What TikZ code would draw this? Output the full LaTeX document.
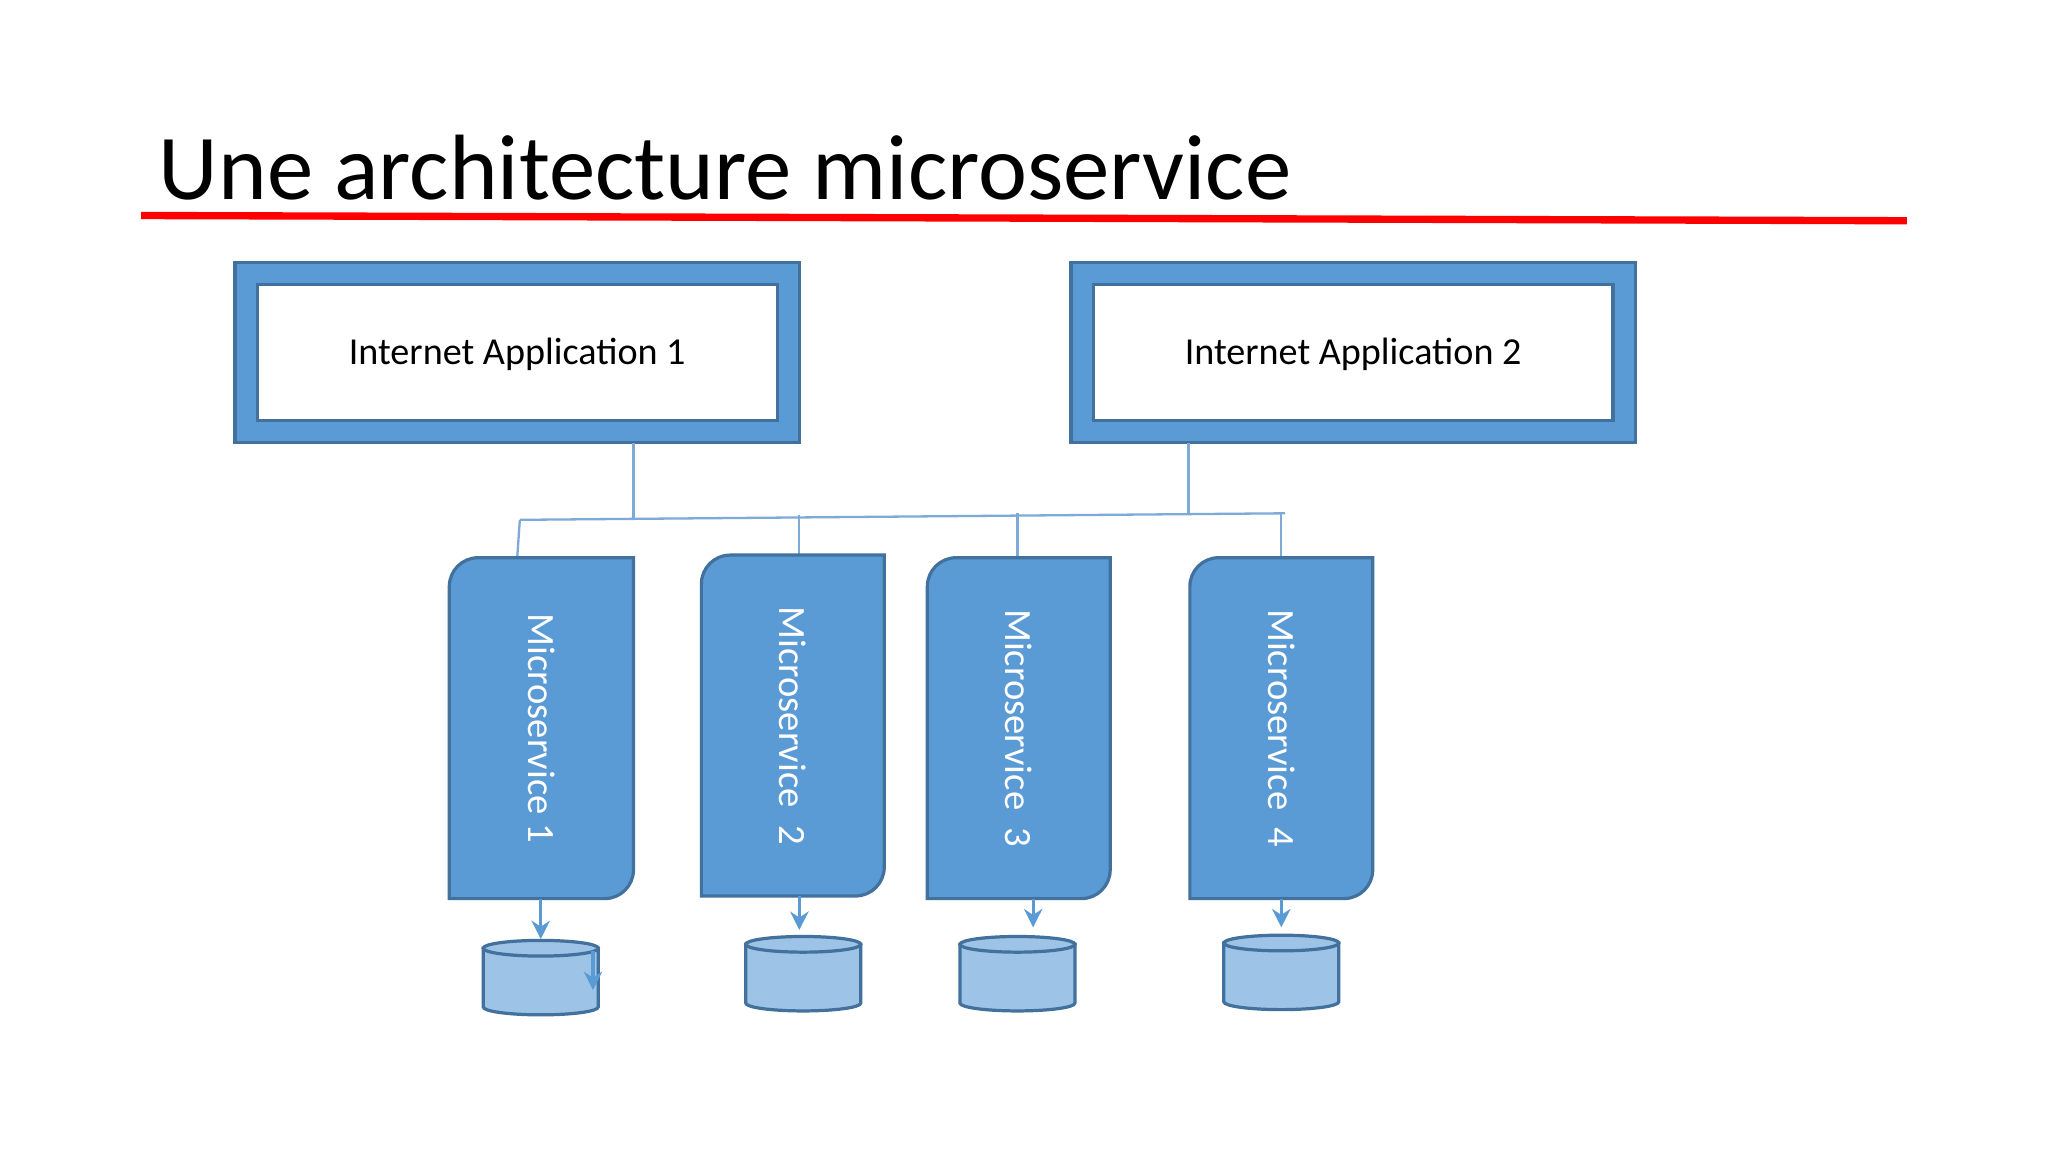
\documentclass[tikz,border=0pt]{standalone}
\usepackage{fontspec}
\setmainfont{Carlito}
\usetikzlibrary{arrows.meta}
\begin{document}
\begin{tikzpicture}[x=0.01cm,y=-0.01cm,
  outer/.style={fill=blue1,draw=blue2,line width=0.7pt},
  inner/.style={fill=white,draw=blue2,line width=0.7pt},
  ms/.style={fill=blue1,draw=blue2,line width=0.7pt},
  db/.style={fill=blue3,draw=blue2,line width=0.7pt},
  link/.style={draw=blue4,line width=0.5pt},
  arr/.style={draw=blue1,line width=0.7pt,-{Stealth[length=4pt,width=4pt]}},
  mstext/.style={rotate=-90,text=white,font=\fontsize{8.4pt}{10pt}\selectfont},
  apptext/.style={font=\fontsize{8.3pt}{10pt}\selectfont}]
\definecolor{blue1}{HTML}{5B9BD5}
\definecolor{blue2}{HTML}{41719C}
\definecolor{blue3}{HTML}{9DC3E6}
\definecolor{blue4}{HTML}{7EAAD8}
\useasboundingbox (0,0) rectangle (1568,882);
\fill[white] (0,0) rectangle (1568,882);
\node[anchor=base west,inner sep=0,font=\fontsize{20.2pt}{24pt}\selectfont] (title) at (121,153) {Une architecture microservice};
\draw[red,line width=1.6pt] (108,165) coordinate (r1) -- (1460,169) coordinate (r2);
% apps
\draw[outer] (180,201) rectangle (612,339);
\draw[inner] (197,218) rectangle (595,322);
\node[apptext] (app1) at (396,271) {Internet Application 1};
\draw[outer] (820,201) rectangle (1252,339);
\draw[inner] (837,218) rectangle (1235,322);
\node[apptext] (app2) at (1036,271) {Internet Application 2};
\coordinate (a1) at (485,339); \coordinate (a2) at (910,339);
\coordinate (j1) at (485,397); \coordinate (j2) at (910,393);
\coordinate (hl) at (398,398); \coordinate (hr) at (984,393);
\coordinate (b2) at (612,394); \coordinate (b3) at (779,393); \coordinate (b4) at (981,393);
\coordinate (t1) at (396,427); \coordinate (t2) at (612,425); \coordinate (t3) at (779,427); \coordinate (t4) at (981,427);
\draw[link] (a1) -- (j1); \draw[link] (a2) -- (j2);
\draw[link] (hl) -- (hr);
\draw[link] (hl) -- (t1); \draw[link] (b2) -- (t2); \draw[link] (b3) -- (t3); \draw[link] (b4) -- (t4);
% microservices
\foreach \xa/\ya/\xb/\yb/\n/\lab in {344/427/485/688/1/{Microservice 1},537/425/677/686/2/{Microservice~~2},710/427/850/688/3/{Microservice~~3},911/427/1051/688/4/{Microservice~~4}}{
  \draw[ms] (\xa,\yb) [rounded corners=0.22cm] -- (\xa,\ya) [sharp corners] -- (\xb,\ya) [rounded corners=0.22cm] -- (\xb,\yb) [sharp corners] -- cycle;
  \node[mstext] (ms\n) at ({(\xa+\xb)/2},{(\ya+\yb)/2}) {\lab};
}
% databases
\foreach \cx/\ty/\n in {414/726/1,615/723/2,779/723/3,981/722/4}{
  \draw[db] (\cx-44,\ty) -- (\cx-44,\ty+45) arc[start angle=180,end angle=0,x radius=44,y radius=6] -- (\cx+44,\ty) -- cycle;
  \draw[db] (\cx,\ty) ellipse [x radius=44,y radius=6];
  \coordinate (db\n) at (\cx,\ty-6);
}
\coordinate (m1) at (414,688); \coordinate (m2) at (612,686); \coordinate (m3) at (791,688); \coordinate (m4) at (981,688);
\coordinate (d1) at (414,719); \coordinate (d2) at (612,712); \coordinate (d3) at (791,710); \coordinate (d4) at (981,710);
\draw[arr] (m1) -- (d1); \draw[arr] (m2) -- (d2); \draw[arr] (m3) -- (d3); \draw[arr] (m4) -- (d4);
\coordinate (e1) at (454,728); \coordinate (e2) at (454,758);
\draw[arr] (e1) -- (e2);
\end{tikzpicture}
\end{document}
